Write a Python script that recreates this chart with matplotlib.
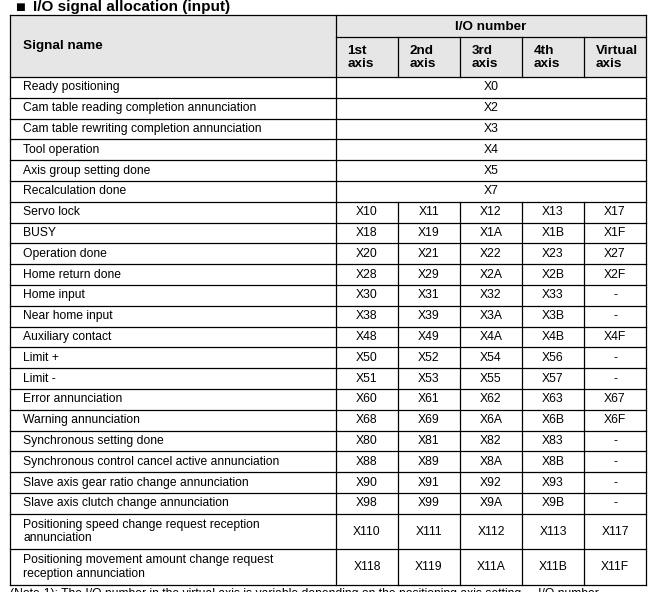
import matplotlib
matplotlib.use("Agg")
import matplotlib.pyplot as plt
from matplotlib.patches import Rectangle

plt.rcParams["font.family"] = ["Liberation Sans", "DejaVu Sans"]

title = "I/O signal allocation (input)"
header_main = "Signal name"
header_group = "I/O number"
axis_labels = ["1st\naxis", "2nd\naxis", "3rd\naxis", "4th\naxis", "Virtual\naxis"]

# signals shared by all axes (one merged cell)
common_signals = ["Ready positioning",
                  "Cam table reading completion annunciation",
                  "Cam table rewriting completion annunciation",
                  "Tool operation",
                  "Axis group setting done",
                  "Recalculation done"]
common_values = ["X0", "X2", "X3", "X4", "X5", "X7"]

# per-axis signals
axis_signals = ["Servo lock", "BUSY", "Operation done", "Home return done",
                "Home input", "Near home input", "Auxiliary contact",
                "Limit +", "Limit -", "Error annunciation",
                "Warning annunciation", "Synchronous setting done",
                "Synchronous control cancel active annunciation",
                "Slave axis gear ratio change annunciation",
                "Slave axis clutch change annunciation",
                "Positioning speed change request reception\nannunciation",
                "Positioning movement amount change request\nreception annunciation"]
axis_values = [
    ["X10", "X11", "X12", "X13", "X17"],
    ["X18", "X19", "X1A", "X1B", "X1F"],
    ["X20", "X21", "X22", "X23", "X27"],
    ["X28", "X29", "X2A", "X2B", "X2F"],
    ["X30", "X31", "X32", "X33", "-"],
    ["X38", "X39", "X3A", "X3B", "-"],
    ["X48", "X49", "X4A", "X4B", "X4F"],
    ["X50", "X52", "X54", "X56", "-"],
    ["X51", "X53", "X55", "X57", "-"],
    ["X60", "X61", "X62", "X63", "X67"],
    ["X68", "X69", "X6A", "X6B", "X6F"],
    ["X80", "X81", "X82", "X83", "-"],
    ["X88", "X89", "X8A", "X8B", "-"],
    ["X90", "X91", "X92", "X93", "-"],
    ["X98", "X99", "X9A", "X9B", "-"],
    ["X110", "X111", "X112", "X113", "X117"],
    ["X118", "X119", "X11A", "X11B", "X11F"],
]
note = ("(Note-1): The I/O number in the virtual axis is variable depending on the "
        "positioning axis setting ... I/O number")

W, H = 662, 592
fig = plt.figure(figsize=(W / 100, H / 100), dpi=100)
ax = fig.add_axes([0, 0, 1, 1])
ax.set_xlim(0, W)
ax.set_ylim(H, 0)
ax.axis("off")

left, right = 10, 646
name_right = 336
col_w = (right - name_right) / len(axis_labels)
col_x = [name_right + i * col_w for i in range(len(axis_labels) + 1)]
top = 15
group_bottom = 37
header_bottom = 77
row_h = 20.8
tall_h = 35.5
fs = 8.7
hfs = 9.7
lw = 0.9

# title
ax.text(20, 7, "\u25a0", fontsize=7.5, va="center", ha="center",
        family="DejaVu Sans")
ax.text(33, 6.5, title, fontsize=11, fontweight="bold", va="center", ha="left")

# header
ax.add_patch(Rectangle((left, top), right - left, header_bottom - top,
                       facecolor="#e6e6e6", edgecolor="none"))
ax.text(23, (top + header_bottom) / 2, header_main, fontsize=hfs,
        fontweight="bold", va="center", ha="left")
ax.text((name_right + right) / 2, (top + group_bottom) / 2 + 0.5, header_group,
        fontsize=hfs, fontweight="bold", va="center", ha="center")
for i, lab in enumerate(axis_labels):
    ax.text(col_x[i] + 11.5, (group_bottom + header_bottom) / 2 + 0.5, lab,
            fontsize=hfs, fontweight="bold", va="center", ha="left",
            linespacing=1.15)

hlines = [(left, right, top), (name_right, right, group_bottom),
          (left, right, header_bottom)]
for x in col_x[1:-1]:
    ax.plot([x, x], [group_bottom, header_bottom], color="black", lw=lw)

y = header_bottom
for name, val in zip(common_signals, common_values):
    yc = y + row_h / 2
    ax.text(23, yc, name, fontsize=fs, va="center", ha="left")
    ax.text((name_right + right) / 2, yc, val, fontsize=fs, va="center", ha="center")
    y += row_h
    hlines.append((left, right, y))
merged_bottom = y

for name, vals in zip(axis_signals, axis_values):
    h = tall_h if "\n" in name else row_h
    yc = y + h / 2
    ax.text(23, yc, name, fontsize=fs, va="center", ha="left", linespacing=1.2)
    for i, v in enumerate(vals):
        ax.text((col_x[i] + col_x[i + 1]) / 2, yc, v, fontsize=fs,
                va="center", ha="center")
    y += h
    hlines.append((left, right, y))
table_bottom = y

for x in col_x[1:-1]:
    ax.plot([x, x], [merged_bottom, table_bottom], color="black", lw=lw)
for x0, x1, yy in hlines:
    ax.plot([x0, x1], [yy, yy], color="black", lw=lw)
for x in [left, name_right, right]:
    ax.plot([x, x], [top, table_bottom], color="black", lw=lw)

ax.text(10, table_bottom + 9, note, fontsize=fs, va="center", ha="left")

fig.savefig("out.png", dpi=100)
